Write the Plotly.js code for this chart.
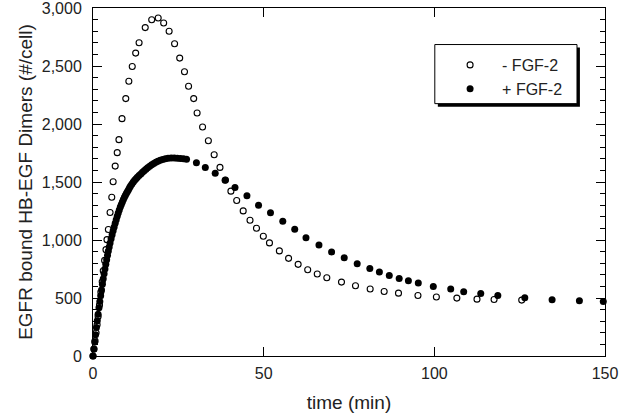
<!DOCTYPE html>
<html>
<head>
<meta charset="utf-8">
<script src="https://cdn.plot.ly/plotly-3.0.1.min.js"></script>
<style>html,body{margin:0;padding:0;background:#fff}#chart{width:624px;height:415px}</style>
</head>
<body>
<div id="chart"></div>
<script>
// - FGF-2 (open circles)
var timeMinus = [0, 0.3, 0.6, 0.9, 1.2, 1.5, 1.9, 2.3, 2.7, 3.0, 3.4, 3.8, 4.1, 4.5, 5.0, 5.5, 5.9, 6.5, 7.1, 7.6, 8.5, 9.6, 10.5, 11.5, 12.5, 13.5, 15.3, 17.2, 19.1, 20.7, 22.3, 23.9, 25.4, 26.8, 28.0, 29.5, 30.5, 32.1, 33.8, 35.5, 37.2, 38.8, 40.4, 42.1, 44.0, 46.0, 47.9, 49.9, 51.7, 54.6, 57.3, 60.1, 62.9, 65.7, 68.5, 72.8, 76.9, 81.2, 85.3, 89.5, 95.2, 100.6, 106.6, 112.5, 117.5, 125.6];
var dimersMinus = [0, 60, 130, 200, 270, 340, 440, 551, 640, 735, 824, 917, 1003, 1090, 1237, 1369, 1502, 1637, 1753, 1865, 2046, 2219, 2369, 2496, 2611, 2700, 2831, 2899, 2914, 2871, 2799, 2692, 2568, 2450, 2326, 2219, 2095, 1974, 1856, 1735, 1626, 1517, 1421, 1340, 1251, 1170, 1101, 1032, 975, 906, 842, 790, 744, 707, 675, 637, 605, 577, 556, 542, 522, 508, 499, 490, 487, 482];

// + FGF-2 (filled circles)
var timePlus = [0, 0.25, 0.5, 0.75, 1.0, 1.25, 1.5, 1.75, 2.0, 2.25, 2.5, 2.75, 3.0, 3.25, 3.5, 3.75, 4.0, 4.25, 4.5, 4.75, 5.0, 5.3, 5.6, 5.9, 6.2, 6.5, 6.8, 7.1, 7.4, 7.7, 8.0, 8.3, 8.6, 8.9, 9.2, 9.5, 9.8, 10.1, 10.4, 10.7, 11.0, 11.4, 11.8, 12.2, 12.6, 13.0, 13.5, 14.0, 14.5, 15.0, 15.5, 16.0, 16.6, 17.2, 17.8, 18.4, 19.0, 19.7, 20.4, 21.2, 22.0, 22.9, 23.8, 24.7, 25.6, 26.5, 27.4, 30.3, 32.9, 35.8, 38.7, 41.6, 45.1, 48.5, 52.0, 55.6, 59.1, 62.4, 66.2, 69.9, 73.6, 77.4, 81.1, 83.9, 86.8, 89.7, 92.4, 95.3, 99.7, 104.8, 108.6, 113.6, 118.6, 126.5, 134.5, 142.5, 149.5];
var dimersPlus = [0, 60, 120, 183, 245, 303, 360, 415, 470, 520, 570, 618, 665, 708, 750, 790, 830, 868, 905, 940, 975, 1010, 1045, 1080, 1112, 1145, 1175, 1205, 1232, 1258, 1285, 1307, 1328, 1350, 1368, 1385, 1402, 1418, 1434, 1450, 1465, 1483, 1500, 1515, 1528, 1540, 1556, 1570, 1585, 1598, 1610, 1622, 1636, 1648, 1660, 1670, 1679, 1688, 1695, 1700, 1704, 1706, 1706, 1705, 1703, 1700, 1696, 1666, 1626, 1576, 1516, 1453, 1381, 1300, 1234, 1161, 1092, 1020, 957, 897, 848, 796, 755, 724, 695, 669, 649, 629, 600, 577, 554, 539, 522, 502, 485, 476, 470];

var seriesNames = ['- FGF-2', '+ FGF-2'];
var xTitle = 'time (min)';
var yTitle = 'EGFR bound HB-EGF Dimers (#/cell)';

var font = 'Liberation Sans, Arial, Helvetica, sans-serif';

var traces = [
  {x: timeMinus, y: dimersMinus, name: seriesNames[0], type: 'scatter', mode: 'markers', cliponaxis: false,
   marker: {symbol: 'circle-open', size: 6, color: '#000', line: {width: 1.1, color: '#000'}}},
  {x: timePlus, y: dimersPlus, name: seriesNames[1], type: 'scatter', mode: 'markers', cliponaxis: false,
   marker: {symbol: 'circle', size: 7, color: '#000'}}
];

var layout = {
  width: 624, height: 415,
  margin: {l: 93, r: 19, t: 8, b: 59},
  paper_bgcolor: '#fff', plot_bgcolor: '#fff',
  font: {family: font, size: 16, color: '#222'},
  showlegend: true,
  legend: {x: 0.674, y: 0.885, xanchor: 'left', yanchor: 'top', bgcolor: 'rgba(0,0,0,0)', borderwidth: 0,
           itemwidth: 54, font: {family: font, size: 16, color: '#222'}},
  xaxis: {range: [0, 150], dtick: 50, tick0: 0, ticks: 'inside', ticklen: 9, tickcolor: '#000', showgrid: false, zeroline: false,
          showline: true, linecolor: '#000', linewidth: 1, mirror: 'ticks', ticklabelstandoff: 3, ticklabeloverflow: 'allow',
          tickfont: {family: font, size: 16, color: '#222'},
          title: {text: xTitle, font: {family: font, size: 19, color: '#222'}, standoff: 14}},
  yaxis: {range: [0, 3000], dtick: 500, tick0: 0, ticks: 'inside', ticklen: 9, tickcolor: '#000', showgrid: false, zeroline: false,
          showline: true, linecolor: '#000', linewidth: 1, mirror: 'ticks', tickformat: ',d',
          ticklabelstandoff: 7, ticklabeloverflow: 'allow',
          minor: {dtick: 100, ticks: 'inside', ticklen: 5, tickcolor: '#000', showgrid: false},
          tickfont: {family: font, size: 16, color: '#222'},
          title: {text: yTitle, font: {family: font, size: 19, color: '#222'}, standoff: 4}},
  shapes: [
    {type: 'rect', xref: 'paper', yref: 'paper', x0: 0.6735, x1: 0.951, y0: 0.7165, y1: 0.8863,
     fillcolor: '#000', line: {width: 0}, layer: 'below'},
    {type: 'rect', xref: 'paper', yref: 'paper', x0: 0.6676, x1: 0.9453, y0: 0.7252, y1: 0.895,
     fillcolor: '#fff', line: {width: 1, color: '#000'}, layer: 'below'}
  ]
};

Plotly.newPlot('chart', traces, layout, {displayModeBar: false, staticPlot: true});
</script>
</body>
</html>
